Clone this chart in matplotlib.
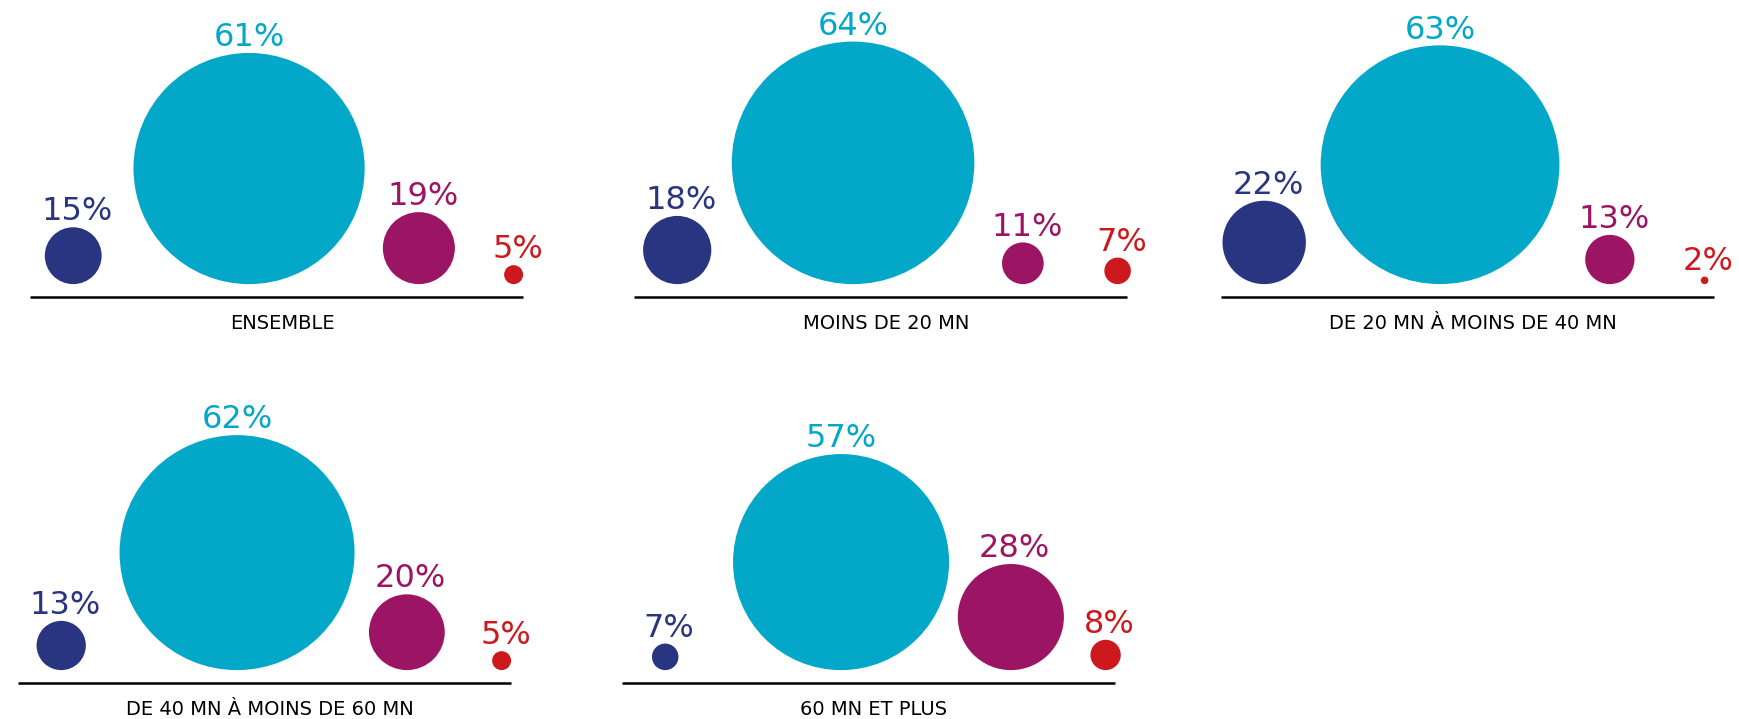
import matplotlib.pyplot as plt
from matplotlib.patches import Circle

# donnees (%)
categories = ["ENSEMBLE", "MOINS DE 20 MN", "DE 20 MN À MOINS DE 40 MN",
              "DE 40 MN À MOINS DE 60 MN", "60 MN ET PLUS"]
bleu_fonce = [15, 18, 22, 13, 7]
bleu_clair = [61, 64, 63, 62, 57]
violet = [19, 11, 13, 20, 28]
rouge = [5, 7, 2, 5, 8]

couleurs = ["#2a3582", "#03a7c8", "#9c1464", "#cd191d"]
series = [bleu_fonce, bleu_clair, violet, rouge]

# mise en page (pixels de la figure)
W, H = 1739, 719
px = 3.79                       # pixels par unite (%) : diametre = valeur
largeur = 130                   # longueur du trait de base, en unites
panneaux = [(30, 297), (634, 297), (1221, 297), (18, 683), (622, 683)]
slots = [11.4, 57.8, 102.6, 127.6]  # centre de chaque bulle
gap = 3.4

fig = plt.figure(figsize=(W / 100, H / 100), dpi=100)
plt.rcParams['font.family'] = ['DejaVu Sans']

ymin, ymax = -12, 74
for k, (L, B) in enumerate(panneaux):
    ax = fig.add_axes([L / W, 1 - (B - ymin * px) / H,
                       largeur * px / W, (ymax - ymin) * px / H])
    ax.set_xlim(0, largeur)
    ax.set_ylim(ymin, ymax)
    ax.axis("off")
    ax.plot([0, largeur], [0, 0], color="black", lw=1.8,
            solid_capstyle="butt", clip_on=False)
    for s, vals in enumerate(series):
        v = vals[k]
        ax.add_patch(Circle((slots[s], gap + v / 2), v / 2,
                            color=couleurs[s], lw=0, clip_on=False))
        ax.text(slots[s] + (0 if s == 1 else 1), gap + v + 1.8, f"{v}%",
                color=couleurs[s], fontsize=23, ha="center", va="baseline",
                clip_on=False)
    ax.text(largeur / 2 + 1.5, -8.4, categories[k], color="black",
            fontsize=14, ha="center", va="baseline", clip_on=False)

fig.savefig("out.png", dpi=100)
